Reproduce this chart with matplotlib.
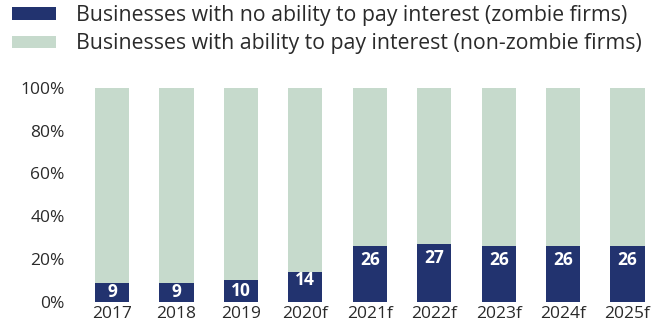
import matplotlib.pyplot as plt
import numpy as np

years = ['2017', '2018', '2019', '2020f', '2021f', '2022f', '2023f', '2024f', '2025f']
zombie = [9, 9, 10, 14, 26, 27, 26, 26, 26]
non_zombie = [100 - z for z in zombie]

dark = '#22336f'
light = '#c6dacc'

plt.rcParams['font.family'] = ['Open Sans', 'DejaVu Sans']

fig = plt.figure(figsize=(6.58, 3.31), dpi=100)
ax = fig.add_axes([0.1213, 0.088, 0.8765, 0.647])

x = np.arange(len(years))
ax.bar(x, zombie, width=0.53, color=dark, label='Businesses with no ability to pay interest (zombie firms)')
ax.bar(x, non_zombie, width=0.53, bottom=zombie, color=light,
       label='Businesses with ability to pay interest (non-zombie firms)')

# value labels: centred in short bars, near the top in taller ones
for xi, z in zip(x, zombie):
    y = z / 2 if z < 12 else z - min(z * 0.27, 6.5)
    ax.text(xi, y, str(z), ha='center', va='center',
            color='white', fontsize=12.5, fontweight='bold')

ax.set_xlim(-0.5, len(years) - 0.55)
ax.set_ylim(0, 100)
ax.set_yticks(range(0, 101, 20))
ax.set_yticklabels([f'{v}%' for v in range(0, 101, 20)])
ax.set_xticks(x)
ax.set_xticklabels(years)
ax.tick_params(length=0, labelsize=12.5, colors='#2a2a2a', pad=3)
ax.tick_params(axis='y', pad=11)
for s in ax.spines.values():
    s.set_visible(False)

handles, labels = ax.get_legend_handles_labels()
fig.legend(handles, labels, loc='upper left', bbox_to_anchor=(12 / 658, 1 - 5 / 331),
           frameon=False, borderpad=0, borderaxespad=0,
           fontsize=15.3, handlelength=2.05, handleheight=0.5, handletextpad=0.95,
           labelspacing=0.35, labelcolor='#2a2a2a')

fig.savefig('out.png', dpi=100)
